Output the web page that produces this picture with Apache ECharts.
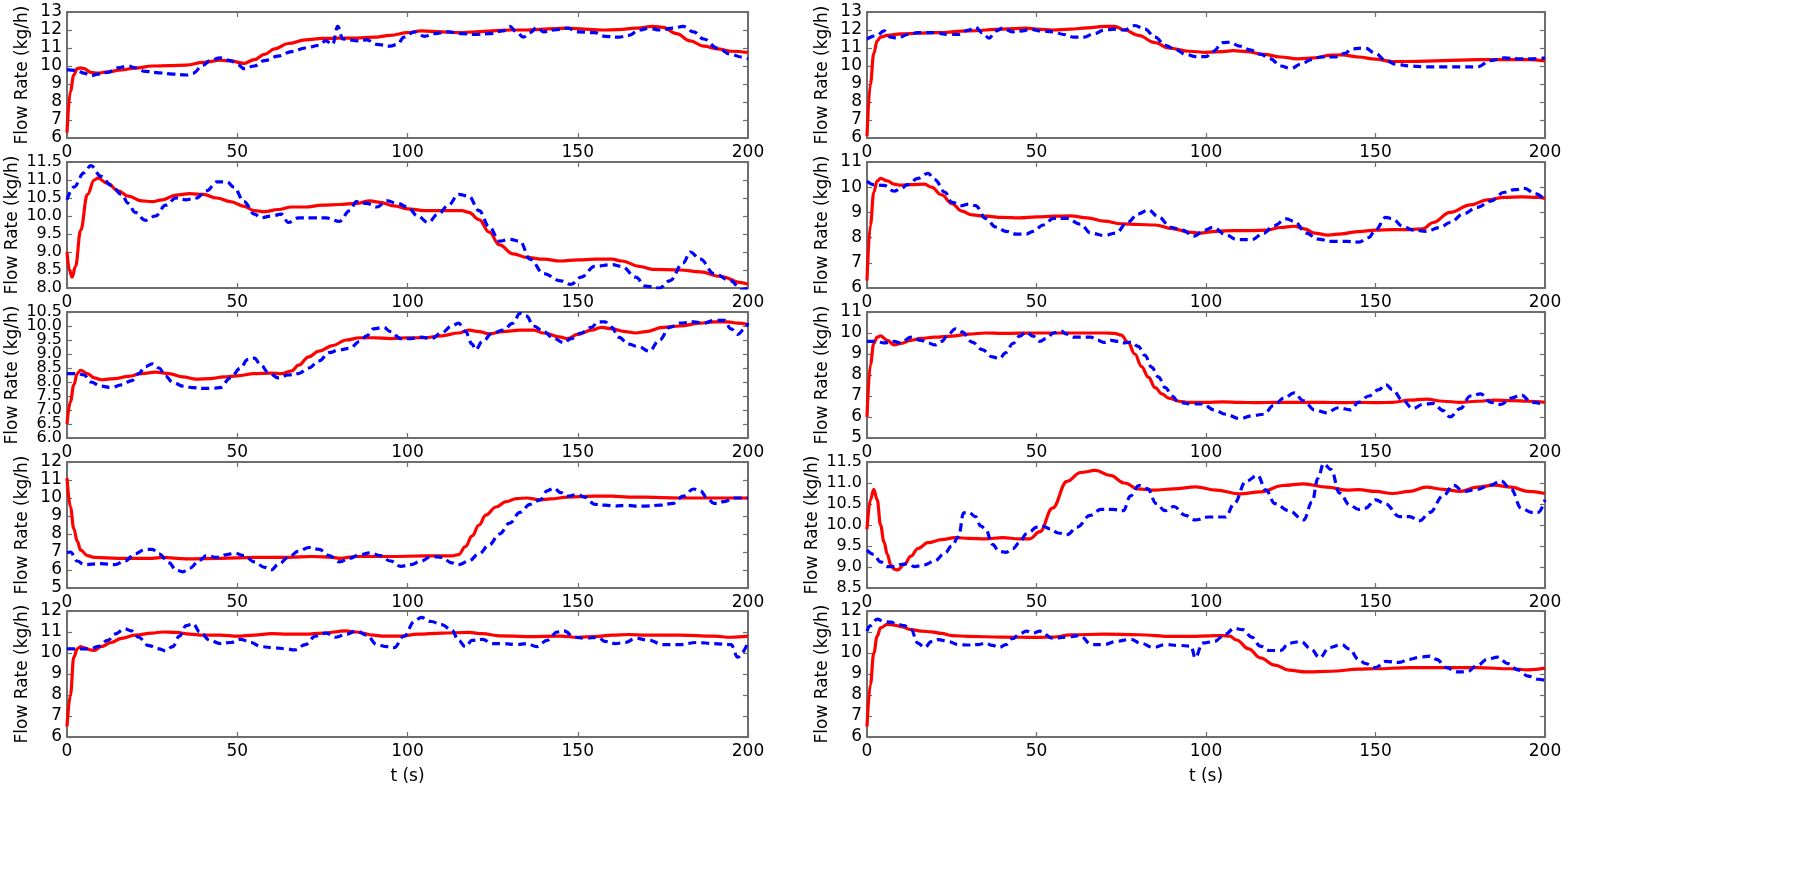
<!DOCTYPE html>
<html>
<head>
<meta charset="utf-8">
<script src="https://cdn.jsdelivr.net/npm/echarts@6/dist/echarts.min.js"></script>
<style>
html,body{margin:0;padding:0;background:#fff;}
#chart{width:1800px;height:891px;}
</style>
</head>
<body>
<div id="chart"></div>
<script>
// ---- Data: [time (s), flow rate (kg/h)] ----
const L1_red = [[0,6.3],[1,8.6],[2,9.5],[3,9.85],[4,9.9],[5,9.85],[7,9.65],[9,9.6],[12,9.68],[16,9.78],[20,9.88],[25,10.0],[30,10.02],[35,10.05],[40,10.2],[45,10.32],[48,10.28],[52,10.15],[55,10.35],[58,10.65],[61,10.95],[65,11.25],[70,11.45],[75,11.53],[80,11.55],[85,11.55],[90,11.6],[95,11.7],[100,11.85],[104,11.95],[110,11.9],[115,11.85],[120,11.9],[125,11.95],[130,12.0],[135,12.0],[140,12.05],[147,12.1],[152,12.05],[157,12.0],[162,12.02],[167,12.1],[172,12.2],[175,12.15],[179,11.8],[183,11.4],[187,11.1],[191,10.95],[195,10.82],[200,10.75]];
const L1_blue = [[0,9.8],[3,9.75],[5,9.6],[7,9.45],[9,9.55],[12,9.65],[15,9.9],[18,10.0],[20,9.9],[23,9.7],[27,9.62],[31,9.55],[35,9.5],[37,9.6],[40,10.05],[42,10.3],[45,10.45],[48,10.3],[50,10.1],[52,9.85],[55,10.0],[58,10.3],[62,10.55],[66,10.8],[70,11.0],[74,11.15],[76,11.4],[78,11.2],[79.5,12.2],[81,11.5],[85,11.4],[88,11.45],[91,11.2],[95,11.1],[97,11.2],[99,11.6],[102,11.9],[105,11.65],[108,11.8],[112,11.9],[116,11.8],[120,11.75],[124,11.8],[128,11.95],[130,12.2],[132,11.9],[134,11.6],[136,11.85],[138,12.15],[140,11.9],[143,12.0],[147,12.1],[150,11.9],[155,11.85],[158,11.65],[162,11.6],[165,11.7],[168,12.0],[171,12.1],[174,12.0],[178,12.1],[181,12.2],[184,11.9],[187,11.5],[191,11.0],[195,10.65],[198,10.5],[200,10.4]];

const L2_red = [[0,9.0],[0.7,8.5],[1.5,8.3],[2.5,8.6],[4,9.6],[6,10.6],[8,11.0],[9,11.05],[12,10.9],[15,10.7],[18,10.55],[22,10.42],[25,10.4],[28,10.45],[32,10.58],[36,10.62],[40,10.6],[44,10.5],[48,10.4],[52,10.27],[55,10.15],[58,10.12],[62,10.18],[66,10.25],[70,10.25],[75,10.3],[80,10.32],[85,10.35],[89,10.42],[92,10.38],[96,10.28],[100,10.2],[105,10.15],[110,10.15],[116,10.15],[118,10.1],[121,9.9],[124,9.55],[127,9.2],[131,8.95],[135,8.85],[140,8.8],[145,8.75],[150,8.78],[155,8.8],[160,8.8],[163,8.75],[168,8.6],[172,8.52],[180,8.5],[186,8.45],[192,8.32],[198,8.15],[200,8.1]];
const L2_blue = [[0,10.45],[2,10.8],[5,11.2],[7,11.4],[10,11.1],[13,10.85],[16,10.6],[18,10.35],[20,10.1],[23,9.88],[26,10.0],[29,10.3],[32,10.5],[35,10.45],[38,10.5],[41,10.7],[44,10.95],[47,10.95],[49,10.8],[52,10.4],[55,10.05],[57,9.95],[60,10.0],[63,10.05],[65,9.82],[68,9.95],[72,9.95],[76,9.95],[80,9.85],[83,10.15],[85,10.4],[88,10.35],[91,10.25],[94,10.42],[97,10.35],[100,10.25],[103,10.0],[106,9.82],[109,10.05],[112,10.3],[115,10.6],[118,10.55],[121,10.15],[124,9.7],[127,9.3],[130,9.35],[133,9.3],[136,8.8],[140,8.4],[145,8.2],[148,8.1],[151,8.3],[155,8.6],[160,8.65],[163,8.6],[167,8.3],[170,8.05],[174,8.0],[177,8.2],[181,8.7],[183,9.0],[186,8.8],[190,8.4],[195,8.2],[198,7.95],[200,8.0]];

const L3_red = [[0,6.5],[1,7.3],[2,7.9],[3,8.3],[4,8.42],[6,8.3],[8,8.15],[10,8.08],[14,8.12],[18,8.2],[22,8.3],[26,8.35],[30,8.3],[34,8.18],[38,8.1],[42,8.12],[46,8.18],[50,8.22],[55,8.3],[60,8.32],[63,8.3],[66,8.4],[68,8.6],[71,8.9],[74,9.1],[78,9.3],[82,9.5],[86,9.58],[90,9.58],[95,9.55],[100,9.58],[105,9.58],[110,9.65],[115,9.75],[118,9.85],[121,9.8],[124,9.72],[128,9.8],[133,9.85],[137,9.85],[140,9.75],[145,9.6],[147,9.55],[150,9.7],[154,9.85],[157,9.95],[160,9.9],[164,9.8],[167,9.75],[170,9.8],[175,9.95],[180,10.0],[186,10.1],[190,10.15],[194,10.15],[197,10.1],[200,10.05]];
const L3_blue = [[0,8.3],[3,8.3],[5,8.25],[7,8.0],[10,7.85],[13,7.8],[16,7.9],[19,8.05],[21,8.3],[23,8.55],[25,8.65],[27,8.5],[29,8.2],[31,8.0],[34,7.85],[37,7.8],[40,7.77],[43,7.78],[45,7.8],[48,8.15],[51,8.5],[53,8.8],[55,8.85],[57,8.6],[59,8.35],[62,8.15],[65,8.25],[68,8.3],[71,8.5],[74,8.75],[77,9.05],[80,9.15],[83,9.2],[86,9.45],[88,9.65],[90,9.9],[93,9.95],[95,9.8],[98,9.55],[101,9.55],[104,9.6],[107,9.55],[110,9.75],[113,10.0],[115,10.1],[117,9.8],[119,9.35],[120,9.15],[122,9.45],[125,9.75],[128,9.85],[131,10.1],[133,10.45],[135,10.35],[137,10.0],[140,9.8],[143,9.55],[146,9.4],[148,9.55],[151,9.75],[154,9.95],[156,10.15],[158,10.15],[160,9.95],[162,9.6],[165,9.35],[168,9.25],[171,9.1],[174,9.5],[177,9.95],[180,10.1],[184,10.15],[187,10.1],[190,10.2],[193,10.2],[195,9.9],[197,9.7],[199,9.9],[200,10.1]];

const L4_red = [[0,11.1],[1,9.5],[2,8.3],[3,7.6],[4,7.1],[6,6.8],[8,6.7],[15,6.65],[25,6.65],[28,6.7],[35,6.62],[45,6.65],[55,6.7],[65,6.7],[72,6.75],[78,6.7],[80,6.65],[85,6.75],[95,6.75],[105,6.78],[113,6.78],[115,6.85],[117,7.3],[119,7.9],[121,8.5],[123,9.05],[126,9.5],[129,9.8],[132,9.97],[135,10.0],[139,9.9],[142,9.95],[147,10.05],[155,10.1],[160,10.1],[165,10.05],[170,10.05],[180,10.0],[190,10.0],[200,10.0]];
const L4_blue = [[0,6.95],[1,7.0],[3,6.5],[5,6.3],[10,6.35],[14,6.3],[17,6.5],[20,6.9],[23,7.15],[25,7.15],[27,6.9],[30,6.4],[32,6.0],[34,5.9],[36,6.1],[39,6.55],[41,6.8],[44,6.7],[47,6.85],[49,6.95],[52,6.8],[55,6.45],[58,6.15],[60,6.0],[62,6.3],[65,6.7],[68,7.05],[71,7.25],[74,7.15],[77,6.8],[80,6.45],[83,6.65],[86,6.85],[89,6.95],[92,6.8],[95,6.5],[98,6.2],[101,6.3],[104,6.5],[107,6.75],[110,6.7],[113,6.4],[115,6.3],[118,6.5],[121,6.9],[124,7.4],[127,8.0],[130,8.6],[133,9.2],[136,9.65],[139,9.9],[141,10.4],[143,10.55],[145,10.3],[147,10.1],[150,10.2],[152,10.05],[155,9.65],[158,9.6],[161,9.55],[164,9.6],[167,9.55],[170,9.55],[174,9.6],[178,9.7],[181,10.1],[184,10.5],[186,10.4],[188,10.0],[190,9.7],[193,9.8],[196,10.0],[200,10.0]];

const L5_red = [[0,6.5],[1,8.0],[2,9.8],[3,10.2],[4,10.3],[5,10.25],[7,10.15],[8,10.12],[10,10.3],[13,10.5],[16,10.7],[20,10.85],[25,10.95],[28,11.0],[32,10.98],[36,10.9],[40,10.85],[45,10.85],[50,10.8],[55,10.85],[60,10.92],[65,10.9],[70,10.9],[75,10.95],[82,11.05],[85,11.0],[90,10.85],[93,10.8],[98,10.8],[103,10.9],[110,10.95],[118,10.98],[122,10.92],[127,10.82],[135,10.78],[145,10.8],[150,10.75],[155,10.78],[160,10.85],[165,10.88],[170,10.85],[180,10.85],[190,10.8],[195,10.75],[200,10.8]];
const L5_blue = [[0,10.2],[4,10.2],[7,10.2],[9,10.3],[12,10.6],[14,10.9],[17,11.15],[19,11.05],[21,10.75],[24,10.35],[27,10.2],[29,10.1],[31,10.3],[33,10.8],[35,11.3],[37,11.4],[39,11.0],[42,10.6],[45,10.45],[48,10.5],[51,10.65],[54,10.5],[57,10.3],[61,10.25],[64,10.2],[67,10.15],[70,10.4],[73,10.8],[76,10.95],[79,10.75],[82,10.9],[85,11.05],[88,10.85],[91,10.4],[94,10.3],[96,10.25],[99,10.8],[102,11.5],[104,11.7],[107,11.5],[110,11.35],[113,11.1],[115,10.6],[117,10.3],[119,10.6],[122,10.65],[125,10.45],[128,10.45],[132,10.4],[135,10.45],[138,10.3],[141,10.6],[144,11.0],[146,11.05],[149,10.75],[152,10.7],[156,10.75],[158,10.55],[161,10.45],[164,10.5],[167,10.7],[171,10.6],[175,10.4],[180,10.4],[185,10.5],[190,10.45],[195,10.4],[197,9.8],[200,10.5]];

const R1_red = [[0,6.1],[1,9.0],[2,10.7],[3,11.4],[4,11.6],[6,11.7],[10,11.78],[15,11.82],[20,11.85],[30,11.95],[40,12.05],[47,12.1],[50,12.05],[55,12.0],[60,12.05],[65,12.12],[70,12.2],[73,12.2],[76,12.0],[80,11.7],[85,11.3],[89,11.0],[95,10.82],[100,10.76],[105,10.8],[108,10.85],[112,10.8],[117,10.65],[122,10.5],[127,10.4],[132,10.45],[137,10.6],[140,10.62],[145,10.5],[150,10.38],[155,10.25],[160,10.25],[170,10.3],[180,10.35],[190,10.35],[195,10.35],[200,10.28]];
const R1_blue = [[0,11.5],[3,11.7],[5,11.95],[7,11.6],[9,11.55],[12,11.75],[15,11.85],[20,11.85],[24,11.75],[27,11.75],[30,12.0],[32,12.15],[34,11.85],[36,11.55],[38,11.95],[40,12.1],[43,11.9],[46,11.95],[48,12.05],[51,11.95],[55,11.9],[58,11.75],[61,11.6],[64,11.6],[67,11.8],[70,12.0],[73,12.05],[76,12.0],[79,12.25],[82,12.05],[85,11.6],[88,11.15],[91,10.9],[94,10.65],[97,10.52],[100,10.52],[102,10.8],[105,11.3],[107,11.32],[110,11.1],[113,10.9],[116,10.66],[119,10.4],[122,10.0],[125,9.86],[128,10.1],[131,10.35],[134,10.5],[138,10.5],[141,10.7],[143,10.95],[147,11.0],[150,10.7],[153,10.3],[156,10.1],[160,10.0],[165,9.95],[170,9.95],[175,9.95],[180,9.95],[184,10.3],[188,10.45],[192,10.4],[196,10.4],[200,10.45]];

const R2_red = [[0,6.3],[1,8.5],[2,9.8],[3,10.25],[4,10.35],[6,10.25],[8,10.12],[10,10.08],[13,10.1],[17,10.12],[19,10.0],[22,9.7],[25,9.35],[28,9.05],[31,8.9],[35,8.85],[40,8.8],[45,8.78],[50,8.82],[55,8.85],[60,8.86],[65,8.78],[70,8.65],[75,8.55],[80,8.52],[85,8.5],[90,8.36],[95,8.22],[98,8.18],[103,8.25],[108,8.28],[113,8.28],[118,8.3],[122,8.4],[126,8.45],[129,8.35],[132,8.18],[136,8.1],[140,8.15],[145,8.24],[150,8.3],[155,8.32],[160,8.32],[164,8.35],[167,8.6],[172,9.0],[178,9.3],[183,9.5],[188,9.6],[193,9.62],[198,9.6],[200,9.55]];
const R2_blue = [[0,10.24],[2,10.1],[5,10.07],[8,9.84],[10,9.95],[12,10.1],[15,10.35],[18,10.55],[20,10.3],[23,9.8],[25,9.4],[28,9.27],[30,9.33],[32,9.27],[35,8.76],[38,8.42],[41,8.25],[44,8.14],[47,8.14],[49,8.25],[52,8.5],[55,8.76],[59,8.76],[63,8.53],[66,8.18],[70,8.08],[73.4,8.18],[76.8,8.6],[80,8.94],[83,9.1],[86,8.82],[89.6,8.41],[93,8.3],[96.4,8.06],[99.8,8.3],[102,8.41],[105.8,8.12],[109,7.92],[113.5,7.92],[117,8.18],[120,8.47],[123.7,8.74],[126,8.65],[129.6,8.18],[133,7.94],[137,7.85],[141.6,7.85],[145,7.82],[148,8.0],[150,8.3],[153,8.8],[155,8.75],[158,8.45],[161,8.3],[165,8.25],[169,8.4],[172,8.6],[176,8.95],[180,9.2],[184,9.45],[188,9.8],[191,9.9],[194,9.95],[197,9.75],[200,9.5]];

const R3_red = [[0,6.0],[1,8.5],[2,9.5],[3,9.8],[4,9.86],[6,9.65],[8,9.43],[10,9.5],[13,9.65],[16,9.75],[20,9.8],[25,9.85],[30,9.95],[35,10.0],[40,9.98],[50,10.0],[60,10.0],[70,10.0],[73,9.98],[75,9.9],[77,9.55],[79,9.0],[81,8.4],[83,7.9],[85,7.4],[87,7.1],[89,6.9],[92,6.75],[95,6.7],[100,6.7],[105,6.72],[110,6.7],[115,6.68],[120,6.7],[125,6.7],[130,6.7],[135,6.7],[140,6.68],[145,6.7],[150,6.68],[155,6.7],[160,6.8],[165,6.85],[170,6.75],[175,6.7],[180,6.75],[185,6.8],[190,6.78],[195,6.75],[200,6.7]];
const R3_blue = [[0,9.6],[3,9.6],[5,9.53],[8,9.6],[10,9.53],[13,9.8],[16,9.65],[18,9.53],[20,9.43],[22,9.6],[24,9.93],[26,10.2],[28,10.05],[31,9.57],[34,9.21],[37,8.86],[39,8.78],[41,9.07],[43,9.5],[45,9.85],[47,10.05],[49,9.85],[51,9.6],[53,9.75],[55,10.0],[57,10.1],[59,9.95],[61,9.8],[63,9.8],[66,9.8],[68,9.65],[70,9.55],[72,9.65],[74,9.6],[76,9.53],[78,9.57],[80,9.36],[82,8.93],[84,8.36],[86,7.9],[88,7.4],[90,7.0],[92,6.69],[95.6,6.62],[99,6.62],[102.4,6.34],[105.8,6.13],[110,5.92],[113.5,6.06],[117,6.13],[120,6.55],[123,6.9],[126,7.15],[128.8,6.77],[132,6.34],[135.6,6.2],[139,6.44],[142.6,6.34],[145,6.7],[148,7.0],[151,7.3],[153,7.55],[155,7.3],[158,6.8],[161,6.4],[164,6.6],[167,6.65],[170,6.3],[172,6.0],[175,6.4],[178,7.0],[181,7.1],[184,6.7],[187,6.6],[190,6.9],[193,7.05],[196,6.7],[200,6.6]];

const R4_red = [[0,9.9],[1,10.6],[2,10.85],[3,10.6],[4,10.0],[5,9.6],[6,9.3],[7,9.05],[8,8.95],[9,8.93],[11,9.06],[13,9.26],[15,9.44],[18,9.58],[22,9.65],[26,9.7],[30,9.68],[35,9.67],[40,9.7],[45,9.67],[48,9.67],[51,9.84],[54.7,10.4],[59,11.04],[63,11.25],[67.4,11.3],[71.7,11.18],[76,11.0],[80,10.86],[84.5,10.83],[90.5,10.86],[97,10.91],[103,10.83],[110,10.74],[116,10.79],[122.8,10.94],[128.8,10.98],[135.6,10.9],[141.6,10.83],[145,10.84],[150,10.8],[155,10.75],[160,10.8],[165,10.9],[170,10.85],[175,10.8],[180,10.9],[185,10.95],[190,10.9],[195,10.8],[200,10.75]];
const R4_blue = [[0,9.4],[2,9.3],[4,9.12],[6,9.01],[8,9.01],[10,9.06],[12,9.08],[14,9.01],[17,9.05],[20,9.15],[23,9.33],[25,9.5],[27,9.72],[28.5,10.29],[30,10.3],[32,10.2],[33.5,9.98],[35,9.9],[37,9.54],[39,9.37],[41,9.35],[43,9.44],[45,9.58],[47,9.79],[48,9.84],[50,9.95],[52,9.97],[54,9.91],[56.4,9.81],[59,9.77],[62,9.95],[65.8,10.23],[69,10.37],[72.6,10.37],[75.6,10.34],[77.7,10.69],[80.2,10.94],[82.8,10.86],[85.3,10.51],[87.9,10.34],[90.5,10.44],[93.9,10.23],[96.8,10.12],[100.7,10.19],[105.8,10.19],[108.3,10.51],[111.8,11.04],[115.2,11.18],[117.7,10.83],[120.3,10.51],[124.5,10.34],[128.8,10.12],[131.3,10.55],[133,11.11],[134.7,11.46],[136.9,11.32],[139.4,10.76],[142.4,10.48],[145,10.37],[147,10.4],[150,10.6],[153,10.5],[157,10.2],[160,10.2],[163,10.1],[166,10.3],[170,10.7],[173,10.95],[176,10.8],[180,10.85],[184,10.95],[187,11.05],[190,10.85],[193,10.4],[196,10.3],[198,10.3],[200,10.6]];

const R5_red = [[0,6.5],[1,8.5],[2,10.0],[3,10.8],[4,11.2],[6,11.36],[8,11.33],[10,11.26],[13,11.11],[16,11.04],[19,11.01],[22,10.93],[25,10.83],[30,10.79],[40,10.76],[50,10.74],[55,10.76],[60,10.86],[70,10.9],[80,10.87],[90,10.79],[96,10.79],[101,10.82],[105,10.83],[107,10.8],[109,10.62],[112.6,10.2],[116,9.77],[120.3,9.42],[124.5,9.18],[129.6,9.1],[137,9.13],[145,9.23],[150,9.25],[160,9.3],[170,9.3],[180,9.3],[190,9.25],[195,9.2],[200,9.28]];
const R5_blue = [[0,11.04],[1,11.3],[3,11.61],[5,11.5],[7,11.47],[9,11.36],[11,11.3],[13,11.11],[15,10.47],[17,10.26],[19,10.54],[21,10.64],[24,10.54],[27,10.4],[30,10.38],[33,10.4],[35,10.47],[37,10.36],[39,10.26],[41,10.4],[43,10.69],[45,10.9],[47,11.04],[49,10.95],[51,11.04],[54.7,10.71],[59,10.76],[62.8,10.83],[66.2,10.4],[70,10.4],[73.4,10.55],[77.7,10.65],[81,10.45],[84.5,10.26],[87.9,10.4],[92,10.36],[95.6,10.33],[96.8,9.77],[99,10.47],[102.4,10.55],[105.8,10.9],[108.3,11.18],[110.8,11.11],[113.5,10.76],[116,10.33],[118.6,10.12],[122,10.12],[124.5,10.47],[128,10.55],[131,10.19],[133.5,9.77],[136.4,10.26],[140,10.4],[142.3,10.19],[145,9.7],[147,9.5],[150,9.3],[153,9.6],[157,9.55],[160,9.7],[163,9.8],[166,9.85],[168,9.7],[171,9.3],[174,9.1],[177,9.1],[180,9.4],[183,9.7],[186,9.8],[189,9.5],[192,9.2],[195,8.9],[198,8.75],[200,8.7]];

// ---- Axis ticks: panels ordered left column rows 1-5, then right column rows 1-5 ----
const yMin  = [6, 8,   6,   5, 6,  6, 6, 5, 8.5, 6];
const yMax  = [13, 11.5, 10.5, 12, 12, 13, 11, 11, 11.5, 12];
const yStep = [1, 0.5, 0.5, 1, 1,  1, 1, 1, 0.5, 1];
const xTicks = [0, 50, 100, 150, 200];
const yAxisTitle = 'Flow Rate (kg/h)';
const xAxisTitle = 't (s)';

const redSeries  = [L1_red, L2_red, L3_red, L4_red, L5_red, R1_red, R2_red, R3_red, R4_red, R5_red];
const blueSeries = [L1_blue, L2_blue, L3_blue, L4_blue, L5_blue, R1_blue, R2_blue, R3_blue, R4_blue, R5_blue];

// ---- Build option ----
const FONT = 'DejaVu Sans';
const frameColor = '#6e6e6e';
const grids = [], xAxes = [], yAxes = [], series = [];
const colLeft = [67, 867], colWidth = [681, 678];
const rowTop = [12, 162, 312, 462, 611], rowH = 126;

for (let p = 0; p < 10; p++) {
  const col = p < 5 ? 0 : 1, row = p % 5;
  grids.push({left: colLeft[col], top: rowTop[row], width: colWidth[col], height: rowH, containLabel: false});
  const axLine = {show: true, onZero: false, lineStyle: {color: frameColor, width: 2}};
  const tick = {show: true, inside: true, length: 5, lineStyle: {color: frameColor, width: 1.2}};
  const isBottom = row === 4;
  xAxes.push({
    gridIndex: p, type: 'value', min: xTicks[0], max: xTicks[xTicks.length-1],
    interval: xTicks[1] - xTicks[0], position: 'bottom',
    axisLine: axLine, axisTick: tick, splitLine: {show: false},
    axisLabel: {color: '#000', fontSize: 17, fontFamily: FONT, margin: 6,
      showMinLabel: true, showMaxLabel: true},
    name: isBottom ? xAxisTitle : '', nameLocation: 'middle', nameGap: 31,
    nameTextStyle: {color: '#000', fontSize: 17, fontFamily: FONT}
  });
  xAxes.push({
    gridIndex: p, type: 'value', min: xTicks[0], max: xTicks[xTicks.length-1],
    interval: xTicks[1] - xTicks[0], position: 'top',
    axisLine: axLine, axisTick: tick, splitLine: {show: false}, axisLabel: {show: false}
  });
  const dec = yStep[p] < 1 ? 1 : 0;
  const gap = dec ? 46 : 36;
  const fs = dec ? 16 : 17;
  const yVals = [];
  for (let k = 0; yMin[p] + k * yStep[p] <= yMax[p] + 1e-9; k++) {
    yVals.push(+(yMin[p] + k * yStep[p]).toFixed(2));
  }
  // labels split over two coincident left axes (alternate values) so none get auto-hidden
  const evenVals = yVals.filter((v, i) => i % 2 === 0);
  const oddVals = yVals.filter((v, i) => i % 2 === 1);
  yAxes.push({
    gridIndex: p, type: 'value', min: yMin[p], max: yMax[p], interval: yStep[p], position: 'left',
    axisLine: axLine, axisTick: tick, splitLine: {show: false},
    axisLabel: {color: '#000', fontSize: fs, fontFamily: FONT, margin: 5,
      customValues: evenVals, showMinLabel: true, showMaxLabel: true,
      formatter: v => Number(v).toFixed(dec)},
    name: yAxisTitle, nameLocation: 'middle', nameRotate: 90, nameGap: gap,
    nameTextStyle: {color: '#000', fontSize: 17, fontFamily: FONT}
  });
  yAxes.push({
    gridIndex: p, type: 'value', min: yMin[p], max: yMax[p], interval: yStep[p], position: 'right',
    axisLine: axLine, axisTick: tick, splitLine: {show: false}, axisLabel: {show: false}
  });
  yAxes.push({
    gridIndex: p, type: 'value', min: yMin[p], max: yMax[p], interval: yStep[p], position: 'left',
    axisLine: {show: false}, axisTick: {show: false}, splitLine: {show: false},
    axisLabel: {color: '#000', fontSize: fs, fontFamily: FONT, margin: 5,
      customValues: oddVals, showMinLabel: true, showMaxLabel: true,
      formatter: v => Number(v).toFixed(dec)}
  });
  series.push({
    type: 'line', xAxisIndex: 2*p, yAxisIndex: 3*p, data: redSeries[p],
    showSymbol: false, smooth: 0.4, smoothMonotone: 'x', clip: true,
    lineStyle: {color: '#ff0000', width: 3.2}, z: 2
  });
  series.push({
    type: 'line', xAxisIndex: 2*p, yAxisIndex: 3*p, data: blueSeries[p],
    showSymbol: false, smooth: 0.4, smoothMonotone: 'x', clip: true,
    lineStyle: {color: '#0000ff', width: 3.2, type: [8, 5]}, z: 3
  });
}

const chart = echarts.init(document.getElementById('chart'), null, {renderer: 'canvas'});
chart.setOption({
  animation: false,
  backgroundColor: '#fff',
  grid: grids, xAxis: xAxes, yAxis: yAxes, series: series
});
</script>
</body>
</html>
